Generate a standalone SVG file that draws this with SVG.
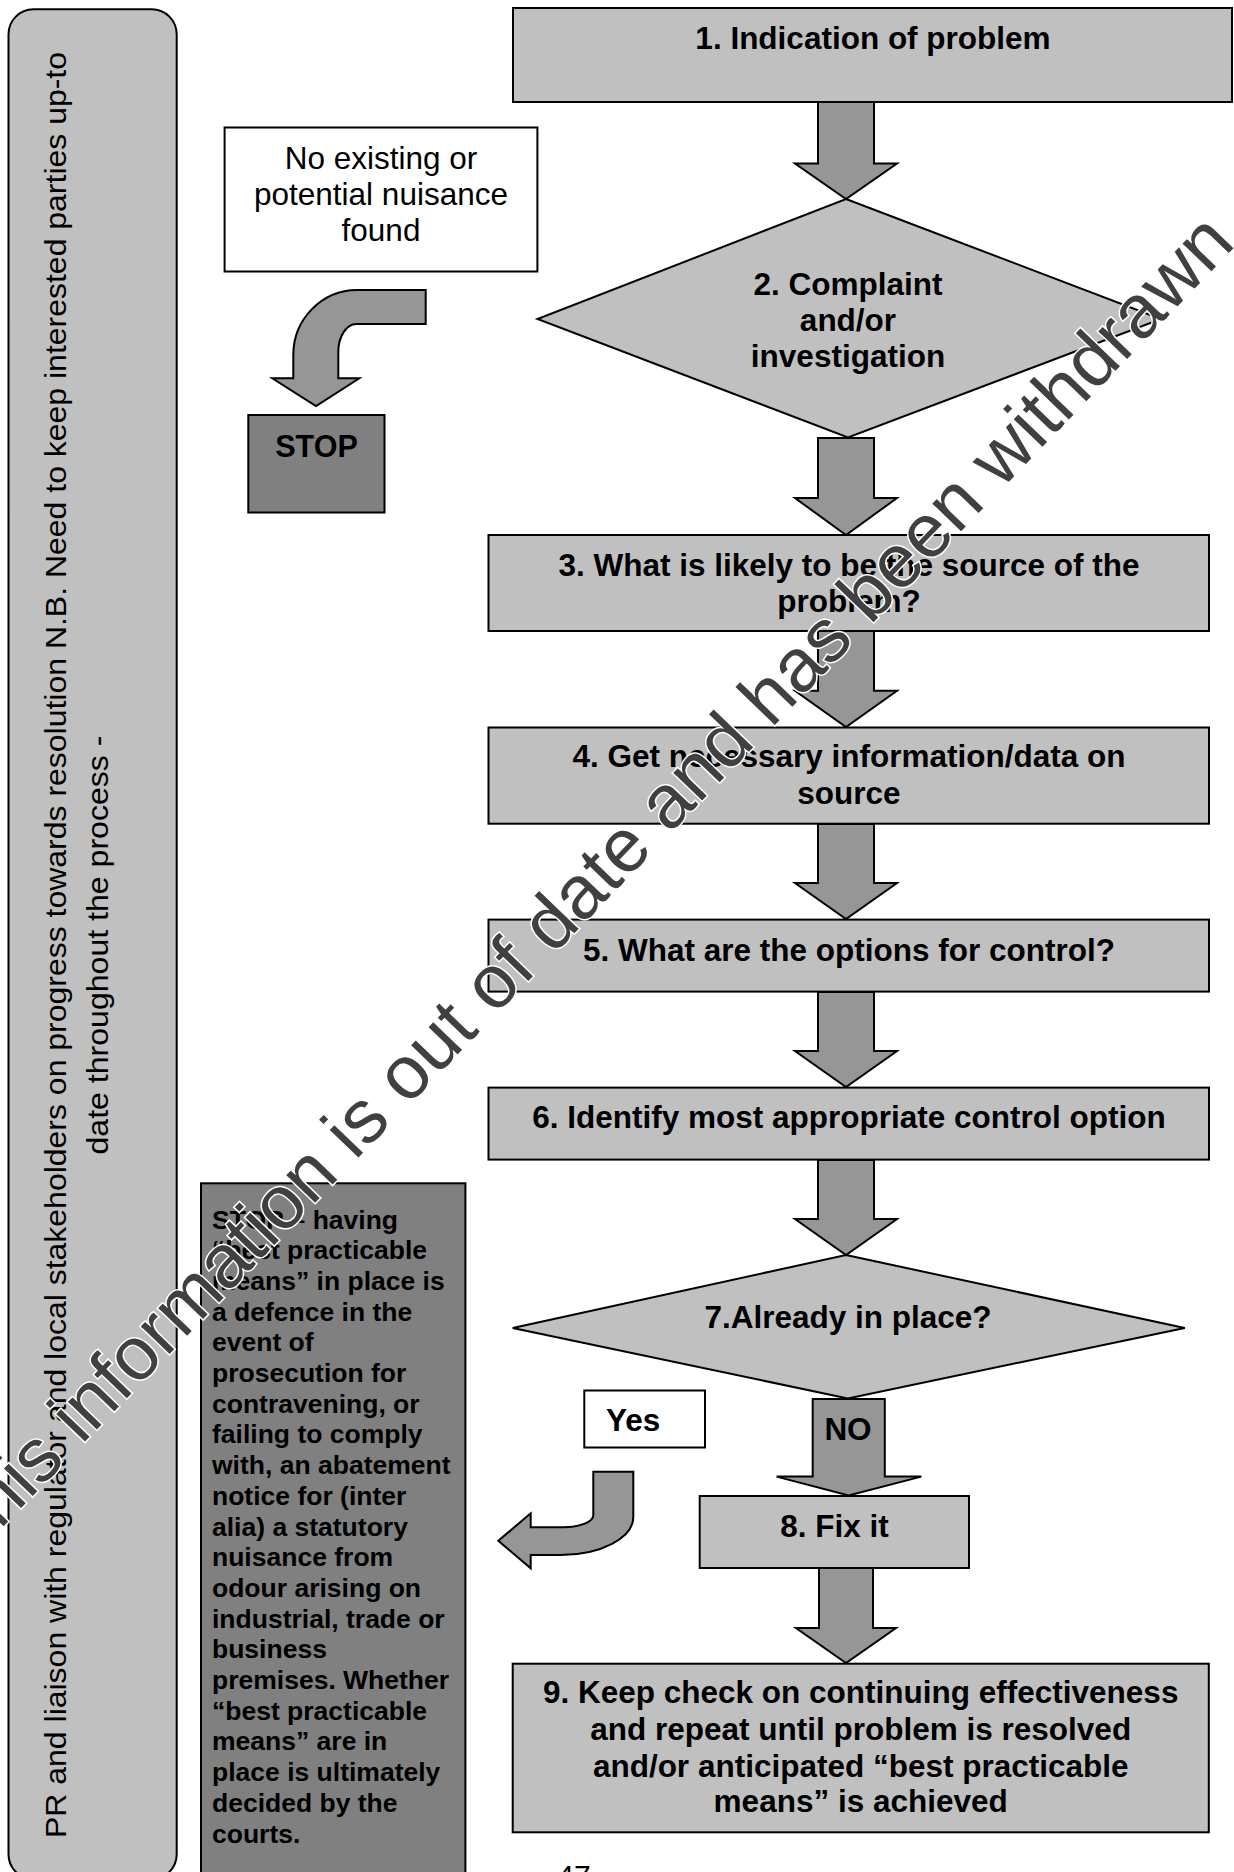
<svg xmlns="http://www.w3.org/2000/svg" width="1234" height="1872" viewBox="0 0 1234 1872">
<style>
.box{fill:#c0c0c0;stroke:#000;stroke-width:2}
.white{fill:#fff;stroke:#000;stroke-width:2}
.dark{fill:#808080;stroke:#000;stroke-width:2}
.arr{fill:#969696;stroke:#000;stroke-width:2;stroke-linejoin:miter}
.lbl{font-family:"Liberation Sans",Arial,sans-serif;font-weight:bold;font-size:31.5px;fill:#000;text-anchor:middle}
.reg{font-family:"Liberation Sans",Arial,sans-serif;font-size:31.5px;fill:#000;text-anchor:middle}
.side{font-family:"Liberation Sans",Arial,sans-serif;font-size:29px;fill:#000;text-anchor:middle}
.note{font-family:"Liberation Sans",Arial,sans-serif;font-weight:bold;font-size:26.5px;fill:#000}
.wm{font-family:"Liberation Sans",Arial,sans-serif;font-size:75.5px;fill:#404040;stroke:#fff;stroke-width:3;paint-order:stroke;text-anchor:middle}
</style>
<rect width="1234" height="1872" fill="#fff"/>

<g id="sidebar">
<rect class="box" x="8.5" y="9.3" width="168.2" height="1870" rx="25" ry="25"/>
<text class="side" transform="translate(65.7,945) rotate(-90)" textLength="1786" lengthAdjust="spacingAndGlyphs">PR and liaison with regulator and local stakeholders on progress towards resolution N.B. Need to keep interested parties up-to</text>
<text class="side" transform="translate(108.3,945) rotate(-90)" textLength="419" lengthAdjust="spacingAndGlyphs">date throughout the process -</text>
</g>

<g id="connectors">
<path class="arr" d="M818,102 H874 V163.6 H897 L846,199 L795,163.6 H818 Z"/>
<path class="arr" d="M818,438 H874 V498 H897 L846,535 L795,498 H818 Z"/>
<path class="arr" d="M818,631 H874 V690.7 H897 L846,727 L795,690.7 H818 Z"/>
<path class="arr" d="M818,824 H874 V883 H897 L846,919 L795,883 H818 Z"/>
<path class="arr" d="M818,992 H874 V1051 H897 L846,1087 L795,1051 H818 Z"/>
<path class="arr" d="M818,1160 H874 V1219 H897 L846,1255 L795,1219 H818 Z"/>
<path class="arr" d="M812.7,1399 H884.8 V1476.6 H921.3 L848.7,1495.5 L776.6,1476.6 H812.7 Z"/>
<path class="arr" d="M819,1568 H873 V1628 H896 L846,1663 L796,1628 H819 Z"/>
<path class="arr" d="M425.7,290 L357,290 A64,65 0 0 0 293.3,355 L293.3,378.3 L272.3,378.3 L316,406 L359.3,378.3 L338.3,378.3 L338.3,352 A18,28 0 0 1 356.5,324 L425.7,324 Z"/>
<path class="arr" d="M593.3,1471.7 L633.3,1471.7 L633.3,1516.7 A73,38 0 0 1 560,1555 L530.7,1555 L530.7,1568.3 L498.3,1540.8 L530.7,1513.3 L530.7,1527.3 L563.3,1527.3 A30,12 0 0 0 593.3,1515 Z"/>
<text class="lbl" x="848" y="1440.4">NO</text>
</g>

<g id="n1">
<rect class="box" x="513" y="8" width="719" height="94"/>
<text class="lbl" x="873" y="49">1. Indication of problem</text>
</g>

<g id="n-none">
<rect class="white" x="224.6" y="127.5" width="312.8" height="144"/>
<text class="reg" x="381" y="168.6">No existing or</text>
<text class="reg" x="381" y="205">potential nuisance</text>
<text class="reg" x="381" y="241">found</text>
</g>

<g id="n-stop">
<rect class="dark" x="248.3" y="415" width="136.2" height="97.5"/>
<text class="lbl" x="316.5" y="457" style="font-size:30.5px">STOP</text>
</g>

<g id="n2">
<polygon class="box" points="846,199 1161,319 848,437.5 537.5,319"/>
<text class="lbl" x="848" y="295">2. Complaint</text>
<text class="lbl" x="848" y="331">and/or</text>
<text class="lbl" x="848" y="367">investigation</text>
</g>

<g id="n3">
<rect class="box" x="488.5" y="535" width="720.5" height="96"/>
<text class="lbl" x="849" y="575.8">3. What is likely to be the source of the</text>
<text class="lbl" x="849" y="611.5">problem?</text>
</g>

<g id="n4">
<rect class="box" x="488.5" y="727.5" width="720.5" height="96.2"/>
<text class="lbl" x="849" y="767.3">4. Get necessary information/data on</text>
<text class="lbl" x="849" y="804.3">source</text>
</g>

<g id="n5">
<rect class="box" x="488.5" y="919.6" width="720.5" height="72"/>
<text class="lbl" x="849" y="960.9">5. What are the options for control?</text>
</g>

<g id="n6">
<rect class="box" x="488.5" y="1087.6" width="720.5" height="72"/>
<text class="lbl" x="849" y="1128.4">6. Identify most appropriate control option</text>
</g>

<g id="n7">
<polygon class="box" points="846,1255 1184.8,1328 847.8,1398.4 512.7,1328"/>
<text class="lbl" x="848" y="1328">7.Already in place?</text>
</g>

<g id="n-yes">
<rect class="white" x="584.3" y="1390.5" width="120.7" height="57"/>
<text class="lbl" x="606" y="1430.7" style="text-anchor:start">Yes</text>
</g>

<g id="n8">
<rect class="box" x="699.7" y="1496" width="269.3" height="72"/>
<text class="lbl" x="834.4" y="1536.6">8. Fix it</text>
</g>

<g id="n9">
<rect class="box" x="512.7" y="1663.7" width="696.1" height="168.6"/>
<text class="lbl" x="860.7" y="1703">9. Keep check on continuing effectiveness</text>
<text class="lbl" x="860.7" y="1739.6">and repeat until problem is resolved</text>
<text class="lbl" x="860.7" y="1776.6">and/or anticipated “best practicable</text>
<text class="lbl" x="860.7" y="1812.4">means” is achieved</text>
</g>

<g id="n-stopnote">
<rect class="dark" x="201" y="1183.3" width="264.4" height="700"/>
<text class="note" x="212">
<tspan x="212" y="1228.5">STOP – having</tspan>
<tspan x="212" y="1259.2">“best practicable</tspan>
<tspan x="212" y="1289.9">means” in place is</tspan>
<tspan x="212" y="1320.6">a defence in the</tspan>
<tspan x="212" y="1351.3">event of</tspan>
<tspan x="212" y="1382">prosecution for</tspan>
<tspan x="212" y="1412.7">contravening, or</tspan>
<tspan x="212" y="1443.4">failing to comply</tspan>
<tspan x="212" y="1474.1">with, an abatement</tspan>
<tspan x="212" y="1504.8">notice for (inter</tspan>
<tspan x="212" y="1535.5">alia) a statutory</tspan>
<tspan x="212" y="1566.2">nuisance from</tspan>
<tspan x="212" y="1596.9">odour arising on</tspan>
<tspan x="212" y="1627.6">industrial, trade or</tspan>
<tspan x="212" y="1658.3">business</tspan>
<tspan x="212" y="1689">premises. Whether</tspan>
<tspan x="212" y="1719.7">“best practicable</tspan>
<tspan x="212" y="1750.4">means” are in</tspan>
<tspan x="212" y="1781.1">place is ultimately</tspan>
<tspan x="212" y="1811.8">decided by the</tspan>
<tspan x="212" y="1842.5">courts.</tspan>
</text>
</g>

<text class="reg" x="574" y="1886" style="font-size:30px">47</text>

<text class="wm" transform="translate(602.5,904) rotate(-46.1)">This information is out of date and has been withdrawn</text>
</svg>
